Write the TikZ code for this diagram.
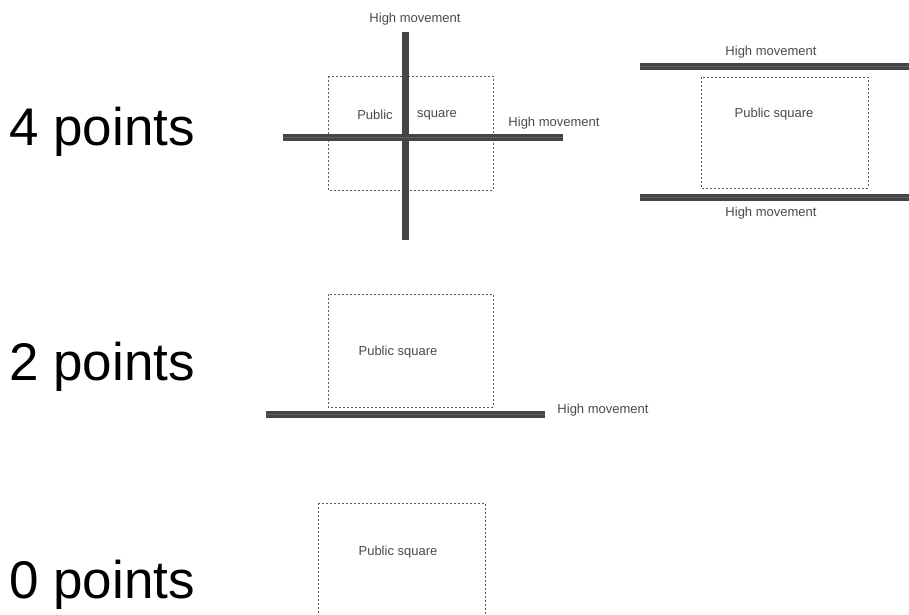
\documentclass[tikz,border=0pt]{standalone}
\usepackage{fontspec}
\setmainfont{Liberation Sans}
\definecolor{bargray}{HTML}{454545}
\definecolor{txtgray}{HTML}{4A4A4A}
\definecolor{dashgray}{HTML}{5A5A5A}
\begin{document}
\begin{tikzpicture}[x=1pt,y=-1pt,
  bigtxt/.style={font=\fontsize{53}{60}\selectfont, text=black, inner sep=0pt, anchor=west},
  smalltxt/.style={font=\fontsize{13}{15}\selectfont, text=txtgray, inner sep=0pt},
  street/.style={line width=7pt, draw=bargray},
  streetcore/.style={line width=0.8pt, draw=bargray!85},
  squarebox/.style={draw=dashgray, line width=0.9pt, dash pattern=on 2pt off 2pt}]
\useasboundingbox (0,0) rectangle (909,614);

% labels
\node[bigtxt] (l4) at (9,132) {4 points};
\node[bigtxt] (l2) at (9,367) {2 points};
\node[bigtxt] (l0) at (9,585) {0 points};

% ---- top-left: crossing ----
\draw[squarebox] (328,76) rectangle (493,190);
\coordinate (vt) at (405.5,32);
\coordinate (vb) at (405.5,240);
\coordinate (hl) at (283,137);
\coordinate (hr) at (563,137);
\draw[street] (vt) -- (vb);
\draw[street] (hl) -- (hr);
\draw[streetcore] (hl) -- (hr);
\node[smalltxt] (hm1) at (415,19) {High movement};
\node[smalltxt] (hm2) at (554,123) {High movement};
\node[smalltxt] (ps1a) at (375,115) {Public};
\node[smalltxt] (ps1b) at (437,115) {square};

% ---- top-right: two parallel streets ----
\draw[squarebox] (701,77) rectangle (868,188);
\coordinate (t1) at (640,66);
\coordinate (t2) at (909,66);
\coordinate (b1) at (640,197);
\coordinate (b2) at (909,197);
\draw[street] (t1) -- (t2);
\draw[streetcore] (t1) -- (t2);
\draw[street] (b1) -- (b2);
\draw[streetcore] (b1) -- (b2);
\node[smalltxt] (hm3) at (771,52) {High movement};
\node[smalltxt] (hm4) at (771,213) {High movement};
\node[smalltxt] (ps2) at (774,114) {Public square};

% ---- middle: one street ----
\draw[squarebox] (328,294) rectangle (493,407);
\coordinate (m1) at (266,414);
\coordinate (m2) at (545,414);
\draw[street] (m1) -- (m2);
\draw[streetcore] (m1) -- (m2);
\node[smalltxt] (hm5) at (603,410) {High movement};
\node[smalltxt] (ps3) at (398,352) {Public square};

% ---- bottom: no street ----
\draw[squarebox] (318,503) -- (485,503) -- (485,620) (318,503) -- (318,620);
\node[smalltxt] (ps4) at (398,552) {Public square};
\end{tikzpicture}
\end{document}
